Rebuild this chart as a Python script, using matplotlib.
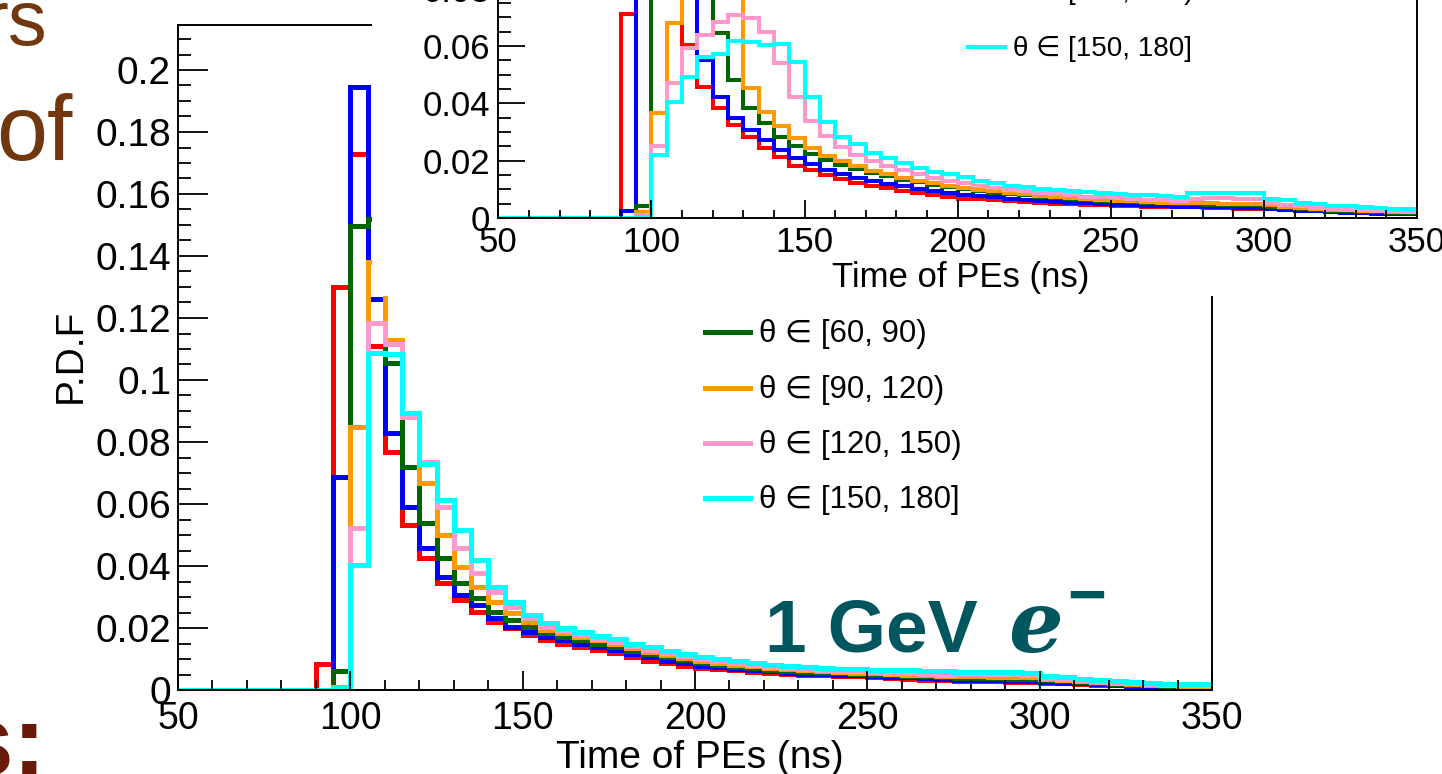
import matplotlib
matplotlib.use("Agg")
import matplotlib.pyplot as plt
from matplotlib.lines import Line2D
from matplotlib.patches import Rectangle
from matplotlib.ticker import MultipleLocator, FuncFormatter
import numpy as np

# ---------------- data ----------------
bin_low, bin_high, bin_width = 50, 350, 5
labels = ["θ ∈ [0, 30)", "θ ∈ [30, 60)", "θ ∈ [60, 90)", "θ ∈ [90, 120)",
          "θ ∈ [120, 150)", "θ ∈ [150, 180]"]
colors = ["#ff0000", "#0000ff", "#006400", "#ff9900", "#ff99cc", "#00ffff"]

zeros_50_90 = [0.0, 0.0, 0.0, 0.0, 0.0, 0.0, 0.0, 0.0]

# main plot (1 GeV e-), bins 90-95 ... 345-350
main_red = [0.0085, 0.130, 0.173, 0.111, 0.0769, 0.0532, 0.0425, 0.0344, 0.0290, 0.0253,
            0.0220, 0.0199, 0.0177, 0.0160, 0.0148, 0.0138, 0.0128, 0.0118, 0.0106, 0.0095,
            0.0086, 0.0078, 0.0072, 0.0067, 0.0063, 0.0059, 0.0055, 0.0052, 0.0050, 0.0048,
            0.0046, 0.0044, 0.0042, 0.0039, 0.0036, 0.0033, 0.0031, 0.0030, 0.0029, 0.0028,
            0.0027, 0.0026, 0.0024, 0.0022, 0.0019, 0.0017, 0.0015, 0.0013, 0.0011, 0.0010,
            0.0009, 0.0008]
main_blue = [0.0, 0.0688, 0.1946, 0.126, 0.0828, 0.0591, 0.0457, 0.0366, 0.0306, 0.0274,
             0.0231, 0.0204, 0.0188, 0.0170, 0.0160, 0.0150, 0.0139, 0.0128, 0.0116, 0.0105,
             0.0095, 0.0086, 0.0079, 0.0073, 0.0068, 0.0064, 0.0060, 0.0056, 0.0053, 0.0051,
             0.0049, 0.0047, 0.0045, 0.0043, 0.0041, 0.0038, 0.0035, 0.0033, 0.0032, 0.0031,
             0.0030, 0.0029, 0.0027, 0.0024, 0.0021, 0.0018, 0.0016, 0.0014, 0.0012, 0.0011,
             0.0010, 0.0009]
main_green = [0.0, 0.0061, 0.1498, 0.152, 0.1054, 0.072, 0.0538, 0.0425, 0.0344, 0.0296,
              0.0253, 0.0226, 0.0204, 0.0183, 0.0172, 0.0162, 0.0150, 0.0139, 0.0127, 0.0116,
              0.0105, 0.0096, 0.0088, 0.0081, 0.0075, 0.0070, 0.0066, 0.0062, 0.0059, 0.0056,
              0.0054, 0.0052, 0.0050, 0.0048, 0.0046, 0.0044, 0.0042, 0.0040, 0.0039, 0.0038,
              0.0037, 0.0036, 0.0033, 0.0029, 0.0025, 0.0022, 0.0019, 0.0017, 0.0015, 0.0013,
              0.0012, 0.0011]
main_orange = [0.0, 0.0010, 0.0849, 0.138, 0.113, 0.088, 0.0667, 0.050, 0.0398, 0.0333,
               0.0285, 0.0247, 0.0220, 0.0194, 0.0183, 0.0172, 0.0160, 0.0148, 0.0136, 0.0124,
               0.0113, 0.0103, 0.0095, 0.0088, 0.0082, 0.0076, 0.0071, 0.0067, 0.0064, 0.0061,
               0.0058, 0.0056, 0.0054, 0.0052, 0.0050, 0.0048, 0.0046, 0.0045, 0.0044, 0.0043,
               0.0042, 0.0041, 0.0037, 0.0033, 0.0029, 0.0025, 0.0022, 0.0019, 0.0017, 0.0015,
               0.0014, 0.0013]
main_pink = [0.0, 0.0005, 0.0521, 0.1183, 0.1115, 0.0882, 0.0737, 0.0591, 0.0457, 0.0376,
             0.0317, 0.0269, 0.0231, 0.0204, 0.0190, 0.0178, 0.0166, 0.0154, 0.0142, 0.0130,
             0.0119, 0.0109, 0.0100, 0.0093, 0.0086, 0.0080, 0.0075, 0.0071, 0.0068, 0.0065,
             0.0062, 0.0060, 0.0058, 0.0056, 0.0054, 0.0052, 0.0050, 0.0051, 0.0052, 0.0052,
             0.0051, 0.0050, 0.0040, 0.0036, 0.0031, 0.0027, 0.0024, 0.0021, 0.0019, 0.0017,
             0.0016, 0.0015]
main_cyan = [0.0, 0.0008, 0.0403, 0.1088, 0.1085, 0.0893, 0.0728, 0.0613, 0.0516, 0.0419,
             0.0333, 0.0285, 0.0242, 0.0215, 0.0200, 0.0188, 0.0175, 0.0163, 0.0150, 0.0138,
             0.0126, 0.0117, 0.0108, 0.0100, 0.0093, 0.0087, 0.0082, 0.0078, 0.0074, 0.0071,
             0.0069, 0.0067, 0.0065, 0.0064, 0.0063, 0.0062, 0.0060, 0.0058, 0.0058, 0.0058,
             0.0057, 0.0056, 0.0046, 0.0041, 0.0035, 0.0032, 0.0028, 0.0026, 0.0022, 0.0020,
             0.0019, 0.0018]

# inset plot, bins 90-95 ... 345-350
inset_red = [0.0712, 0.105, 0.120, 0.095, 0.0604, 0.0458, 0.0383, 0.0325, 0.0284, 0.0243,
             0.0214, 0.0183, 0.0168, 0.0150, 0.0135, 0.0123, 0.0113, 0.0104, 0.0095, 0.0087,
             0.0081, 0.0075, 0.0068, 0.0065, 0.0062, 0.0058, 0.0055, 0.0052, 0.0050, 0.0048,
             0.0046, 0.0044, 0.0042, 0.0041, 0.0040, 0.0039, 0.0038, 0.0037, 0.0036, 0.0035,
             0.0033, 0.0031, 0.0030, 0.0028, 0.0026, 0.0024, 0.0022, 0.0021, 0.0020, 0.0019,
             0.0018, 0.0017]
inset_blue = [0.0025, 0.090, 0.130, 0.110, 0.085, 0.0551, 0.0423, 0.0348, 0.0307, 0.0272,
              0.0237, 0.0210, 0.0188, 0.0168, 0.0153, 0.0140, 0.0128, 0.0118, 0.0110, 0.0102,
              0.0095, 0.0088, 0.0082, 0.0077, 0.0072, 0.0068, 0.0064, 0.0060, 0.0057, 0.0054,
              0.0052, 0.0049, 0.0047, 0.0045, 0.0043, 0.0041, 0.0040, 0.0039, 0.0038, 0.0037,
              0.0036, 0.0035, 0.0032, 0.0029, 0.0026, 0.0023, 0.0021, 0.0019, 0.0017, 0.0015,
              0.0014, 0.0013]
inset_green = [0.0, 0.0043, 0.090, 0.115, 0.100, 0.082, 0.0645, 0.0482, 0.0383, 0.0330,
               0.0284, 0.0252, 0.0225, 0.0203, 0.0185, 0.0170, 0.0157, 0.0145, 0.0134, 0.0124,
               0.0116, 0.0108, 0.0101, 0.0095, 0.0089, 0.0084, 0.0079, 0.0075, 0.0071, 0.0067,
               0.0064, 0.0061, 0.0058, 0.0056, 0.0053, 0.0051, 0.0049, 0.0048, 0.0047, 0.0046,
               0.0045, 0.0044, 0.0040, 0.0036, 0.0032, 0.0029, 0.0026, 0.0024, 0.0022, 0.0020,
               0.0018, 0.0017]
inset_orange = [0.0, 0.0020, 0.0365, 0.068, 0.085, 0.092, 0.089, 0.082, 0.0453, 0.0371,
                0.0320, 0.0278, 0.0245, 0.0218, 0.0198, 0.0180, 0.0165, 0.0152, 0.0140, 0.0130,
                0.0121, 0.0113, 0.0106, 0.0099, 0.0093, 0.0088, 0.0083, 0.0078, 0.0074, 0.0070,
                0.0067, 0.0064, 0.0061, 0.0058, 0.0056, 0.0054, 0.0052, 0.0052, 0.0051, 0.0050,
                0.0049, 0.0048, 0.0044, 0.0040, 0.0036, 0.0032, 0.0029, 0.0027, 0.0025, 0.0023,
                0.0021, 0.0020]
inset_pink = [0.0, 0.0010, 0.0252, 0.047, 0.0592, 0.0639, 0.0685, 0.0709, 0.0697, 0.065,
              0.054, 0.0423, 0.0340, 0.0285, 0.0248, 0.0220, 0.0200, 0.0183, 0.0167, 0.0153,
              0.0141, 0.0130, 0.0121, 0.0113, 0.0105, 0.0099, 0.0093, 0.0088, 0.0083, 0.0079,
              0.0075, 0.0072, 0.0069, 0.0066, 0.0064, 0.0062, 0.0060, 0.0068, 0.0069, 0.0069,
              0.0068, 0.0067, 0.0052, 0.0046, 0.0041, 0.0036, 0.0032, 0.0029, 0.0027, 0.0025,
              0.0023, 0.0022]
inset_cyan = [0.0, 0.0005, 0.022, 0.0406, 0.0491, 0.0562, 0.0572, 0.0619, 0.0614, 0.0604,
              0.0607, 0.0546, 0.0421, 0.0336, 0.0284, 0.0258, 0.0228, 0.0208, 0.0191, 0.0176,
              0.0162, 0.0154, 0.0142, 0.0130, 0.0121, 0.0112, 0.0107, 0.0100, 0.0098, 0.0095,
              0.0092, 0.0088, 0.0084, 0.0082, 0.0080, 0.0076, 0.0074, 0.0086, 0.0086, 0.0087,
              0.0087, 0.0086, 0.0066, 0.0062, 0.0052, 0.0049, 0.0043, 0.0041, 0.0037, 0.0036,
              0.0031, 0.0030]

main_series = [main_red, main_blue, main_green, main_orange, main_pink, main_cyan]
inset_series = [inset_red, inset_blue, inset_green, inset_orange, inset_pink, inset_cyan]
for s in main_series + inset_series:
    assert len(s) == 52, len(s)

edges = np.arange(bin_low, bin_high + bin_width, bin_width)

# ---------------- figure ----------------
W, H = 1442, 774
fig = plt.figure(figsize=(W / 100, H / 100), dpi=100)
FONT = ["Liberation Sans", "DejaVu Sans"]
plt.rcParams["font.family"] = FONT


def fx(px):
    return px / W


def fy(py):
    return 1 - py / H


fmt = FuncFormatter(lambda v, p: f"{v:g}")

# ---- main axes ----
ax = fig.add_axes([fx(178), fy(690), (1212 - 178) / W, (690 - 25) / H])
ax.set_zorder(1)
ax.set_xlim(bin_low, bin_high)
ax.set_ylim(0, 665 / 3100)
for vals, c in zip(main_series, colors):
    ax.stairs(zeros_50_90 + vals, edges, color=c, lw=3.6, baseline=None,
              joinstyle="miter")
ax.xaxis.set_major_locator(MultipleLocator(50))
ax.xaxis.set_minor_locator(MultipleLocator(10))
ax.yaxis.set_major_locator(MultipleLocator(0.02))
ax.yaxis.set_minor_locator(MultipleLocator(0.005))
ax.yaxis.set_major_formatter(fmt)
ax.tick_params(which="both", direction="in", top=False, right=False, width=1.3)
ax.tick_params(axis="x", which="major", length=14, pad=8, labelsize=27)
ax.tick_params(axis="x", which="minor", length=7)
ax.tick_params(axis="y", which="major", length=21.5, pad=5, labelsize=28)
ax.tick_params(axis="y", which="minor", length=9.5)
for sp in ax.spines.values():
    sp.set_linewidth(1.4)
ax.set_xlabel("Time of PEs (ns)", fontsize=28, va="center")
ax.xaxis.set_label_coords((700 - 178) / 1034, -(758 - 690) / 665)
ax.set_ylabel("P.D.F", fontsize=28, va="center")
ax.yaxis.set_label_coords((71 - 178) / 1034, (690 - 356) / 665)

# main legend (first two rows lie beneath the inset)
main_rows = {2: 331.7, 3: 388.3, 4: 443.3, 5: 498.3}
for i, yy in main_rows.items():
    fig.add_artist(Line2D([fx(705), fx(750)], [fy(yy), fy(yy)], color=colors[i], lw=3.6,
                          transform=fig.transFigure, zorder=1.5))
    fig.text(fx(759), fy(yy + 2), labels[i], fontsize=22.5, va="center", ha="left",
             zorder=1.5)

# ---- white box of the inset pad ----
fig.add_artist(Rectangle((fx(372), fy(296)), 1.0, 1.0, transform=fig.transFigure,
                         facecolor="white", edgecolor="none", zorder=2))

# ---- inset axes ----
ax2 = fig.add_axes([fx(498.3), fy(218), (1417 - 498.3) / W, (218 + 150) / H])
ax2.set_zorder(3)
ax2.set_xlim(bin_low, bin_high)
ax2.set_ylim(0, 368 / 2865)
for vals, c in zip(inset_series, colors):
    ax2.stairs(zeros_50_90 + vals, edges, color=c, lw=2.9, baseline=None,
               joinstyle="miter")
ax2.xaxis.set_major_locator(MultipleLocator(50))
ax2.xaxis.set_minor_locator(MultipleLocator(10))
ax2.yaxis.set_major_locator(MultipleLocator(0.02))
ax2.yaxis.set_minor_locator(MultipleLocator(0.005))
ax2.yaxis.set_major_formatter(fmt)
ax2.tick_params(which="both", direction="in", top=False, right=False, width=1.3)
ax2.tick_params(axis="x", which="major", length=13, pad=6, labelsize=25)
ax2.tick_params(axis="x", which="minor", length=6)
ax2.tick_params(axis="y", which="major", length=19.5, pad=6, labelsize=25)
ax2.tick_params(axis="y", which="minor", length=9.5)
for sp in ax2.spines.values():
    sp.set_linewidth(1.4)
ax2.set_xlabel("Time of PEs (ns)", fontsize=25, va="center")
ax2.xaxis.set_label_coords((961 - 498.3) / 918.7, -(277 - 218) / 368)

inset_rows = {4: -10, 5: 47}
for i, yy in inset_rows.items():
    fig.add_artist(Line2D([fx(968), fx(1005)], [fy(yy), fy(yy)], color=colors[i], lw=2.9,
                          transform=fig.transFigure, zorder=4))
    fig.text(fx(1013), fy(yy + 2), labels[i], fontsize=20, va="center", ha="left",
             zorder=4)

# ---- annotation ----
teal = "#00565f"
fig.text(fx(765), fy(652), "1 GeV", fontsize=54, weight="bold", color=teal,
         va="baseline", ha="left", zorder=4)
fig.text(fx(1008), fy(652), "e", fontsize=62, style="italic", family="DejaVu Serif",
         weight="bold", color=teal, va="baseline", ha="left", zorder=4)
fig.text(fx(1087), fy(617), "−", fontsize=48, weight="bold", color=teal,
         va="baseline", ha="center", zorder=4)

# ---- slide text fragments ----
brown = "#71370f"
fig.text(fx(47), fy(45), "rs", fontsize=56, color=brown, ha="right", va="baseline")
fig.text(fx(72), fy(160), "of", fontsize=66, color=brown, ha="right", va="baseline")
fig.text(fx(46), fy(775), "s:", fontsize=72, weight="bold", color="#6a1a0a",
         ha="right", va="baseline")

fig.savefig("out.png", dpi=100)
